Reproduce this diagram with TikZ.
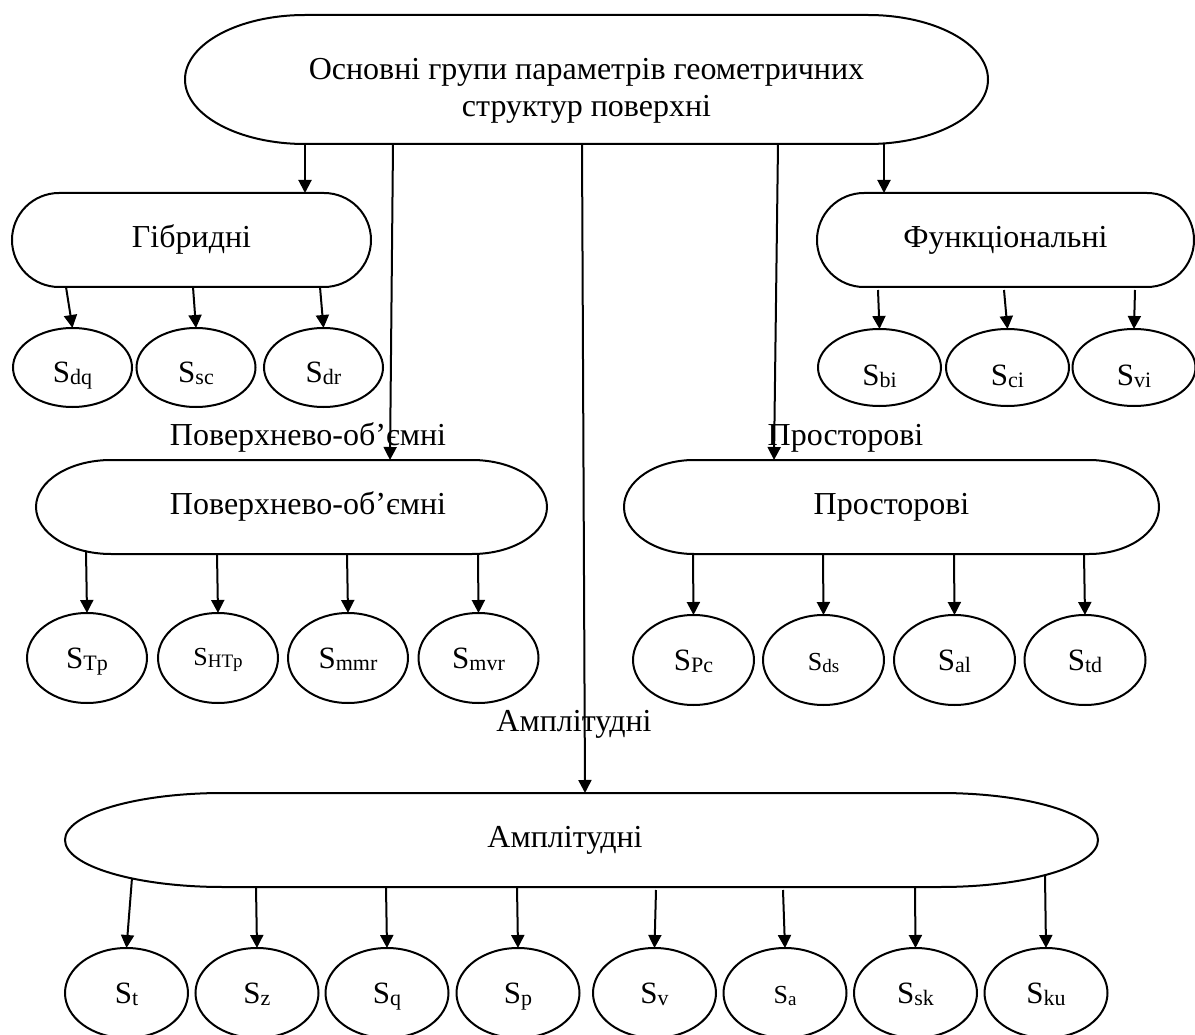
\documentclass[tikz,border=0pt]{standalone}
\usepackage{fontspec}
\setmainfont{Liberation Serif}
\usetikzlibrary{shapes.geometric,arrows.meta}
\newcommand{\SSb}[1]{{\fontsize{31}{32}\selectfont S\raisebox{-2pt}{\fontsize{22}{23}\selectfont #1}}}
\newcommand{\SSm}[1]{{\fontsize{26}{27}\selectfont S\raisebox{-2pt}{\fontsize{19}{20}\selectfont #1}}}
\newcommand{\stadium}[3]{%
  \draw ([xshift=#2]#1.north west) -- ([xshift=-#2]#1.north east)
    arc[start angle=90,end angle=-90,x radius=#2pt,y radius=#3pt]
    -- ([xshift=#2]#1.south west)
    arc[start angle=270,end angle=90,x radius=#2pt,y radius=#3pt] -- cycle;}
\begin{document}
\begin{tikzpicture}[x=1pt,y=-1pt,line width=2pt,
  box/.style={rectangle,inner sep=0pt,outer sep=0pt,font=\fontsize{32}{37}\selectfont,text height=22pt,text depth=7pt},
  lbl/.style={inner sep=0pt,font=\fontsize{32}{37}\selectfont,text height=22pt,text depth=7pt},
  leaf/.style={ellipse,draw,inner sep=0pt,outer sep=0pt,text height=20pt,text depth=0pt},
  arr/.style={-{Triangle[length=13pt,width=13pt]}}]

\path[fill=white] (0,0) rectangle (1195,1035);
\useasboundingbox (0,0) rectangle (1195,1035);

% group nodes
\node[box,minimum width=803pt,minimum height=129pt,text height=30pt,text depth=30pt] (top) at (586.5,79.5)
  {\begin{tabular}[t]{@{}c@{}}Основні групи параметрів геометричних\\структур поверхні\end{tabular}};
\node[box,minimum width=359pt,minimum height=94pt] (gib) at (191.5,240) {Гібридні};
\node[box,minimum width=377pt,minimum height=94pt] (funk) at (1005.5,240) {Функціональні};
\node[box,minimum width=511pt,minimum height=94pt] (pov) at (291.5,507) {\hspace*{33pt}Поверхнево-об’ємні};
\node[box,minimum width=535pt,minimum height=94pt] (prost) at (891.5,507) {Просторові};
\node[box,minimum width=1033pt,minimum height=94pt] (amp) at (581.5,840) {Амплітудні\hspace*{33pt}};

\stadium{top}{120}{64.5}
\stadium{gib}{47}{47}
\stadium{funk}{47}{47}
\stadium{pov}{75}{47}
\stadium{prost}{70}{47}
\stadium{amp}{158}{47}

% free labels
\node[lbl] (lpov) at (308,437.5) {Поверхнево-об’ємні};
\node[lbl] (lprost) at (845.5,437.5) {Просторові};
\node[lbl] (lamp) at (574,723.5) {Амплітудні};

% leaves: hybrid
\begin{scope}[every node/.style={leaf,minimum width=119pt,minimum height=79pt,text height=30pt}]
\node (dq) at (72.5,367.5) {\SSb{dq}};
\node (sc) at (196,367.5) {\SSb{sc}};
\node (dr) at (323.5,367.5) {\SSb{dr}};
\end{scope}
% leaves: functional
\begin{scope}[every node/.style={leaf,minimum width=123pt,minimum height=77pt,text height=36pt}]
\node (bi) at (879.5,367.5) {\SSb{bi}};
\node (ci) at (1007.5,367.5) {\SSb{ci}};
\node (vi) at (1134,367.5) {\SSb{vi}};
\end{scope}
% leaves: surface-volume
\begin{scope}[every node/.style={leaf,minimum width=120pt,minimum height=90pt}]
\node (Tp) at (87,658) {\SSb{Tp}};
\node[text height=14pt] (HTp) at (218,658) {\SSm{HTp}};
\node (mmr) at (348,658) {\SSb{mmr}};
\node (mvr) at (478.5,658) {\SSb{mvr}};
\end{scope}
% leaves: spatial
\begin{scope}[every node/.style={leaf,minimum width=121pt,minimum height=90pt}]
\node (Pc) at (693.5,660) {\SSb{Pc}};
\node (ds) at (823.5,660) {\SSm{ds}};
\node (al) at (954.5,660) {\SSb{al}};
\node (td) at (1085,660) {\SSb{td}};
\end{scope}
% leaves: amplitude
\begin{scope}[every node/.style={leaf,minimum width=123pt,minimum height=90pt}]
\node (t) at (126.5,993) {\SSb{t}};
\node (z) at (257,993) {\SSb{z}};
\node (q) at (387,993) {\SSb{q}};
\node (p) at (518,993) {\SSb{p}};
\node (v) at (654.5,993) {\SSb{v}};
\node (a) at (785,993) {\SSm{a}};
\node (sk) at (915.5,993) {\SSb{sk}};
\node (ku) at (1046,993) {\SSb{ku}};
\end{scope}

% top-level connectors
\draw[arr] ([xshift=-281.5]top.south) -- ([xshift=113.5]gib.north);
\draw[arr] ([xshift=-193.5]top.south) -- ([xshift=98.5]pov.north);
\draw[arr] ([xshift=-4.5]top.south) -- ([xshift=3.5]amp.north);
\draw[arr] ([xshift=191.5]top.south) -- ([xshift=-117.5]prost.north);
\draw[arr] ([xshift=297.5]top.south) -- ([xshift=-121.5]funk.north);

% hybrid
\draw[arr] ([xshift=-125.5]gib.south) -- (dq.north);
\draw[arr] ([xshift=1.5]gib.south) -- (sc.north);
\draw[arr] ([xshift=128.5]gib.south) -- (dr.north);
% functional
\draw[arr] ([xshift=-127.5,yshift=-3]funk.south) -- (bi.north);
\draw[arr] ([xshift=-1.5,yshift=-3]funk.south) -- (ci.north);
\draw[arr] ([xshift=129.5,yshift=-3]funk.south) -- (vi.north);
% surface-volume
\draw[arr] ([xshift=-205.5,yshift=3]pov.south) -- (Tp.north);
\draw[arr] ([xshift=-74.5]pov.south) -- (HTp.north);
\draw[arr] ([xshift=55.5]pov.south) -- (mmr.north);
\draw[arr] ([xshift=186.5]pov.south) -- (mvr.north);
% spatial
\draw[arr] ([xshift=-198.5]prost.south) -- (Pc.north);
\draw[arr] ([xshift=-68.5]prost.south) -- (ds.north);
\draw[arr] ([xshift=62.5]prost.south) -- (al.north);
\draw[arr] ([xshift=192.5]prost.south) -- (td.north);
% amplitude
\draw[arr] ([xshift=-449.5,yshift=9]amp.south) -- (t.north);
\draw[arr] ([xshift=-325.5]amp.south) -- (z.north);
\draw[arr] ([xshift=-195.5]amp.south) -- (q.north);
\draw[arr] ([xshift=-64.5]amp.south) -- (p.north);
\draw[arr] ([xshift=74.5,yshift=-3]amp.south) -- (v.north);
\draw[arr] ([xshift=201.5,yshift=-3]amp.south) -- (a.north);
\draw[arr] ([xshift=333.5]amp.south) -- (sk.north);
\draw[arr] ([xshift=463.5,yshift=12]amp.south) -- (ku.north);
\end{tikzpicture}
\end{document}
